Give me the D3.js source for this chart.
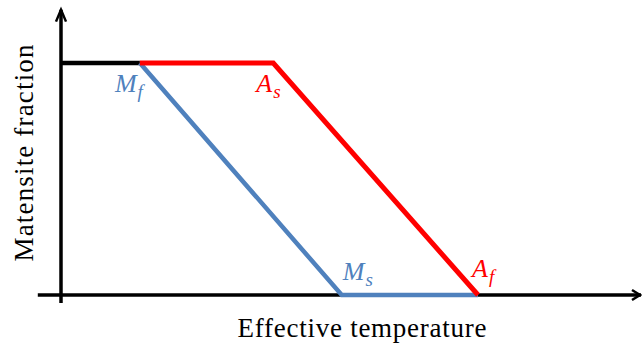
<!DOCTYPE html>
<html>
<head>
<meta charset="utf-8">
<script src="https://cdn.jsdelivr.net/npm/d3@7"></script>
<style>
  body { margin: 0; background: #fff; }
  svg { display: block; }
</style>
</head>
<body>
<div id="chart"></div>
<script>
// transformation temperatures (arbitrary units along the temperature axis)
var tempNames = ["Mf", "As", "Ms", "Af"];
var tempValues = [1.36, 3.66, 4.84, 7.19];

// martensite fraction paths
var coolingPath = [[0, 1], [1.36, 1]];                     // before transformation
var heatingPath = [[1.36, 1], [3.66, 1], [7.19, 0]];       // As -> Af
var forwardPath = [[1.36, 1], [4.84, 0], [7.19, 0]];       // Ms -> Mf

var width = 642, height = 344;

var svg = d3.select("#chart").append("svg")
    .attr("width", width)
    .attr("height", height);

// set the ranges
var x = d3.scaleLinear().domain([0, 10]).range([61, 641]);
var y = d3.scaleLinear().domain([0, 1]).range([295, 63]);

var line = d3.line()
    .x(function(d) { return x(d[0]); })
    .y(function(d) { return y(d[1]); });

var blue = "#4f81bd", red = "#ff0000";

// axes with arrow heads
var axes = svg.append("g")
    .attr("stroke", "#000")
    .attr("stroke-width", 3.5)
    .attr("fill", "none");

axes.append("line")
    .attr("x1", x(-0.4)).attr("x2", x(10))
    .attr("y1", y(0)).attr("y2", y(0));
axes.append("line")
    .attr("x1", x(0)).attr("x2", x(0))
    .attr("y1", y(-0.035)).attr("y2", y(1.23));

axes.append("path")
    .attr("stroke-width", 2.5)
    .attr("stroke-linejoin", "miter")
    .attr("d", "M" + (x(0) - 5) + "," + (y(1.23) + 12) + "L" + x(0) + "," + y(1.23) +
               "L" + (x(0) + 5) + "," + (y(1.23) + 12));
axes.append("path")
    .attr("stroke-width", 2.5)
    .attr("d", "M" + (x(10) - 9) + "," + (y(0) - 5) + "L" + (x(10) - 1) + "," + y(0) +
               "L" + (x(10) - 9) + "," + (y(0) + 5));

// Add the paths
svg.append("path")
    .datum(coolingPath)
    .attr("d", line)
    .attr("fill", "none")
    .attr("stroke", "#000")
    .attr("stroke-width", 4.5);

svg.append("path")
    .datum(forwardPath)
    .attr("d", line)
    .attr("fill", "none")
    .attr("stroke", blue)
    .attr("stroke-width", 4.5);

svg.append("path")
    .datum(heatingPath)
    .attr("d", line)
    .attr("fill", "none")
    .attr("stroke", red)
    .attr("stroke-width", 5);

// transformation temperature labels
var labelSpec = {
  Mf: { main: "M", sub: "f", color: blue, dx: -25, y: 1, dy: 29 },
  As: { main: "A", sub: "s", color: red, dx: -17, y: 1, dy: 29 },
  Ms: { main: "M", sub: "s", color: blue, dx: 1, y: 0, dy: -15 },
  Af: { main: "A", sub: "f", color: red, dx: -6, y: 0, dy: -18 }
};

tempNames.forEach(function(name, i) {
  var s = labelSpec[name];
  var t = svg.append("text")
      .attr("x", x(tempValues[i]) + s.dx)
      .attr("y", y(s.y) + s.dy)
      .attr("fill", s.color)
      .style("font-family", "'Liberation Serif', serif")
      .style("font-style", "italic")
      .style("font-size", "26px");
  t.append("tspan").text(s.main);
  t.append("tspan")
      .attr("dx", 1)
      .attr("dy", 6)
      .style("font-size", "19px")
      .text(s.sub);
});

// axis titles
svg.append("text")
    .attr("x", 362)
    .attr("y", 337)
    .attr("text-anchor", "middle")
    .attr("textLength", 249)
    .attr("lengthAdjust", "spacing")
    .style("font-family", "'Liberation Serif', serif")
    .style("font-size", "27px")
    .text("Effective temperature");

svg.append("text")
    .attr("transform", "translate(33,153) rotate(-90)")
    .attr("text-anchor", "middle")
    .attr("textLength", 217)
    .attr("lengthAdjust", "spacing")
    .style("font-family", "'Liberation Serif', serif")
    .style("font-size", "27px")
    .text("Matensite fraction");
</script>
</body>
</html>
